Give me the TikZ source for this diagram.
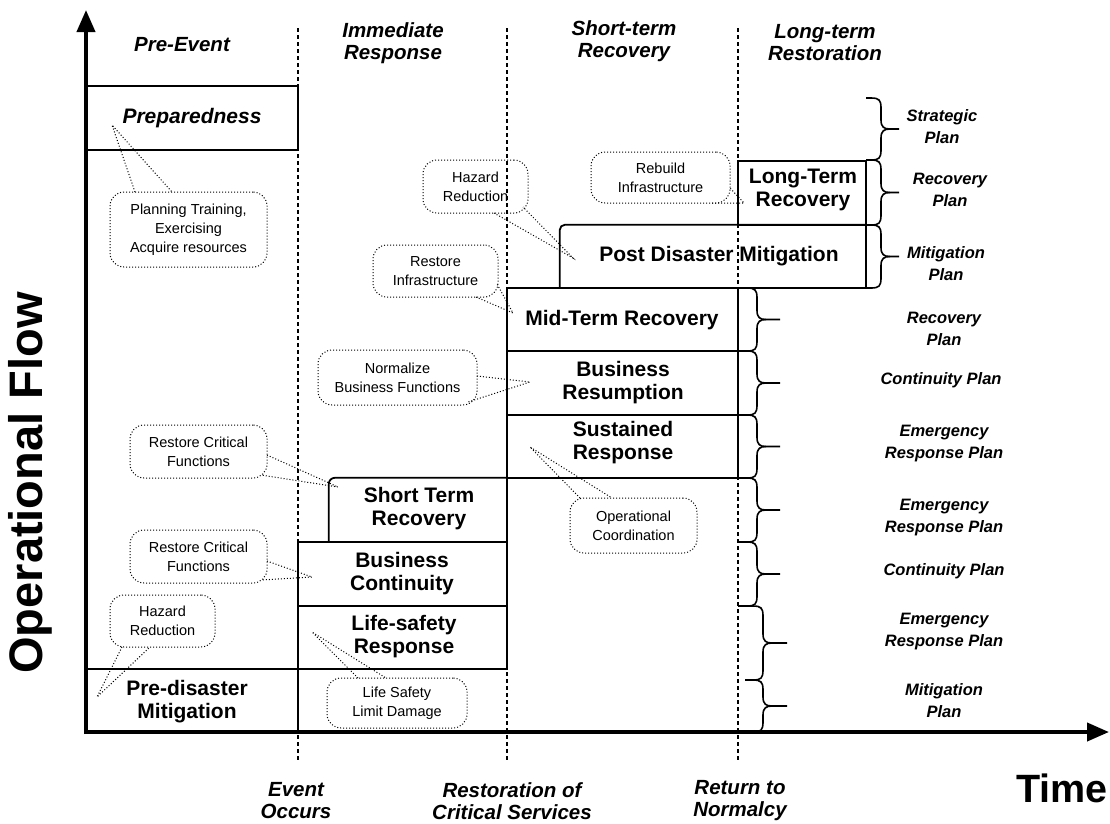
\documentclass[tikz,border=0pt]{standalone}
\usepackage{fontspec}
\setmainfont{Liberation Sans}
\usetikzlibrary{arrows.meta,fit}

% curly bracket: #1 stub start x, #2 spine x, #3 tick end x, #4 top y, #5 bottom y
\newcommand\planbrace[5]{%
  \draw[brc] (#1,#4) -- ({#2-10},#4) .. controls ({#2-2},#4) and (#2,{#4+2}) .. (#2,{#4+10})
    -- (#2,{(#4+#5)/2-9}) .. controls (#2,{(#4+#5)/2-2}) and ({#2+3},{(#4+#5)/2}) .. ({#2+9},{(#4+#5)/2})
    -- (#3,{(#4+#5)/2});
  \draw[brc] ({#2+9},{(#4+#5)/2}) .. controls ({#2+3},{(#4+#5)/2}) and (#2,{(#4+#5)/2+2}) .. (#2,{(#4+#5)/2+9})
    -- (#2,{#5-10}) .. controls (#2,{#5-2}) and ({#2-2},#5) .. ({#2-10},#5) -- (#1,#5);
}

\begin{document}
\begin{tikzpicture}[x=1pt,y=-1pt,
  axis/.style={line width=4pt,-{Triangle[length=22pt,width=18pt]}},
  phase/.style={line width=1.3pt,dash pattern=on 4pt off 3pt},
  box/.style={draw,line width=1.8pt,inner sep=0pt},
  boxtext/.style={font=\fontsize{21}{23}\selectfont\bfseries,align=center},
  callout/.style={draw,line width=1pt,dash pattern=on 1pt off 2pt,rounded corners=14pt,inner sep=0pt},
  calltext/.style={font=\fontsize{14.5}{19}\selectfont,align=center},
  tail/.style={line width=1pt,dash pattern=on 1pt off 2pt},
  head/.style={font=\fontsize{20.5}{22}\selectfont\bfseries\itshape,align=center},
  plan/.style={font=\fontsize{16.5}{22}\selectfont\bfseries\itshape,align=center},
  brc/.style={line width=1.6pt},
]
\useasboundingbox (0,0) rectangle (1110,823);

% phase boundaries
\coordinate (evT) at (298,28);   \coordinate (evB) at (298,762);
\coordinate (rsT) at (507,28);   \coordinate (rsB) at (507,762);
\coordinate (nmT) at (738,28);   \coordinate (nmB) at (738,762);
\draw[phase] (evT) -- (evB);
\draw[phase] (rsT) -- (rsB);
\draw[phase] (nmT) -- (nmB);

% phase headings
\node[head] (hPre) at (182,45) {Pre-Event};
\node[head] (hImm) at (393,43) {Immediate\\Response};
\node[head] (hShort) at (624,41) {Short-term\\Recovery};
\node[head] (hLong) at (825,43) {Long-term\\Restoration};

% milestones
\node[head] (mEvent) at (296,801) {Event\\Occurs};
\node[head] (mRest) at (512,801) {Restoration of\\Critical Services};
\node[head] (mNorm) at (740,801) {Return to\\Normalcy};

% activity blocks
\node[box,fit={(86,86)(298,150)}] (prep) {};
\node[boxtext,font=\fontsize{21}{23}\selectfont\bfseries\itshape] (prepT) at (192,118) {Preparedness};
\node[box,fit={(86,669)(298,732)}] (pdmPre) {};
\node[boxtext] (pdmPreT) at (187,702) {Pre-disaster\\Mitigation};
\node[box,fit={(298,606)(507,669)}] (lsr) {};
\node[boxtext] (lsrT) at (404,637) {Life-safety\\Response};
\node[box,fit={(298,542)(507,606)}] (bc) {};
\node[boxtext] (bcT) at (402,574) {Business\\Continuity};
\node[inner sep=0pt,fit={(329,478)(507,542)}] (str) {};
\draw[line width=1.8pt,rounded corners=6pt] (str.south west) -- (str.north west) -- (str.north east);
\draw[line width=1.8pt] (str.north east) -- (str.south east) -- (str.south west);
\node[boxtext] (strT) at (419,509) {Short Term\\Recovery};
\node[box,fit={(507,415)(738,478)}] (sr) {};
\node[boxtext] (srT) at (623,443) {Sustained\\Response};
\node[box,fit={(507,351)(738,415)}] (br) {};
\node[boxtext] (brT) at (623,383) {Business\\Resumption};
\node[box,fit={(507,288)(738,351)}] (mt) {};
\node[boxtext] (mtT) at (622,320) {Mid-Term Recovery};
\node[inner sep=0pt,fit={(560,225)(866,288)}] (pdm) {};
\draw[line width=1.8pt,rounded corners=5pt] (pdm.south west) -- (pdm.north west) -- (pdm.north east);
\draw[line width=1.8pt] (pdm.north east) -- (pdm.south east) -- (pdm.south west);
\node[boxtext] (pdmT) at (719,256) {Post Disaster Mitigation};
\node[box,fit={(738,161)(866,225)}] (ltr) {};
\node[boxtext] (ltrT) at (803,190) {Long-Term\\Recovery};

% callouts
\node[callout,fit={(110,192)(267,267)}] (cPlan) {};
\node[calltext] (cPlanT) at (cPlan) {Planning Training,\\Exercising\\Acquire resources};
\coordinate (cPlanTip) at (112,125);
\draw[tail] (135,192) -- (cPlanTip) -- (172,192);

\node[callout,fit={(423,160)(528,213)}] (cHaz) {};
\node[calltext] (cHazT) at (cHaz) {Hazard\\Reduction};
\coordinate (cHazTip) at (573,258);
\draw[tail] (494,213) -- (cHazTip) -- (523,207);

\node[callout,fit={(591,152)(730,203)}] (cReb) {};
\node[calltext] (cRebT) at (cReb) {Rebuild\\Infrastructure};
\coordinate (cRebTip) at (744,203);
\draw[tail] (712,203) -- (cRebTip) -- (730,188);

\node[callout,fit={(373,245)(498,297)}] (cRes) {};
\node[calltext] (cResT) at (cRes) {Restore\\Infrastructure};
\coordinate (cResTip) at (513,313);
\draw[tail] (476,297) -- (cResTip) -- (497,284);

\node[callout,fit={(318,350)(477,405)}] (cNorm) {};
\node[calltext] (cNormT) at (cNorm) {Normalize\\Business Functions};
\coordinate (cNormTip) at (530,382);
\draw[tail] (477,376) -- (cNormTip) -- (468,402);

\node[callout,fit={(130,425)(267,478)}] (cCrit) {};
\node[calltext] (cCritT) at (cCrit) {Restore Critical\\Functions};
\coordinate (cCritTip) at (338,487);
\draw[tail] (267,455) -- (cCritTip) -- (261,475);

\node[callout,fit={(570,498)(697,553)}] (cOp) {};
\node[calltext] (cOpT) at (cOp) {Operational\\Coordination};
\coordinate (cOpTip) at (530,447);
\draw[tail] (580,498) -- (cOpTip) -- (612,498);

\node[callout,fit={(130,530)(267,583)}] (cCrit2) {};
\node[calltext] (cCrit2T) at (cCrit2) {Restore Critical\\Functions};
\coordinate (cCrit2Tip) at (312,577);
\draw[tail] (267,561) -- (cCrit2Tip) -- (261,580);

\node[callout,fit={(110,595)(215,647)}] (cHaz2) {};
\node[calltext] (cHaz2T) at (cHaz2) {Hazard\\Reduction};
\coordinate (cHaz2Tip) at (97,697);
\draw[tail] (122,647) -- (cHaz2Tip) -- (150,647);

\node[callout,fit={(327,678)(467,728)}] (cLife) {};
\node[calltext] (cLifeT) at (cLife) {Life Safety\\Limit Damage};
\coordinate (cLifeTip) at (312,632);
\draw[tail] (358,678) -- (cLifeTip) -- (386,678);

% plan brackets
\planbrace{866}{881}{899}{98}{160}
\planbrace{866}{881}{899}{160}{225}
\planbrace{866}{881}{899}{225}{288}
\planbrace{738}{757}{780}{288}{351}
\planbrace{738}{757}{780}{351}{415}
\planbrace{738}{757}{780}{415}{478}
\planbrace{738}{757}{780}{478}{542}
\planbrace{738}{757}{780}{542}{606}
\planbrace{745}{763}{787}{606}{680}
\planbrace{745}{763}{787}{680}{732}

\node[plan] (pStrat) at (942,127) {Strategic\\Plan};
\node[plan] (pRec1) at (950,190) {Recovery\\Plan};
\node[plan] (pMit1) at (946,264) {Mitigation\\Plan};
\node[plan] (pRec2) at (944,329) {Recovery\\Plan};
\node[plan] (pCont1) at (941,380) {Continuity Plan};
\node[plan] (pEmer1) at (944,444) {Emergency\\Response Plan};
\node[plan] (pEmer2) at (944,518) {Emergency\\Response Plan};
\node[plan] (pCont2) at (944,571) {Continuity Plan};
\node[plan] (pEmer3) at (944,632) {Emergency\\Response Plan};
\node[plan] (pMit2) at (944,701) {Mitigation\\Plan};

% axes
\coordinate (origin) at (86,732);
\coordinate (yEnd) at (86,10);
\coordinate (xEnd) at (1109,732);
\draw[axis] ([yshift=-2pt]origin) -- (yEnd);
\draw[axis] ([xshift=-2pt]origin) -- (xEnd);
\node[font=\fontsize{47}{50}\selectfont\bfseries,rotate=90] (yLab) at (30,483) {Operational Flow};
\node[font=\fontsize{39.5}{42}\selectfont\bfseries] (xLab) at (1062,788) {Time};
\end{tikzpicture}
\end{document}
